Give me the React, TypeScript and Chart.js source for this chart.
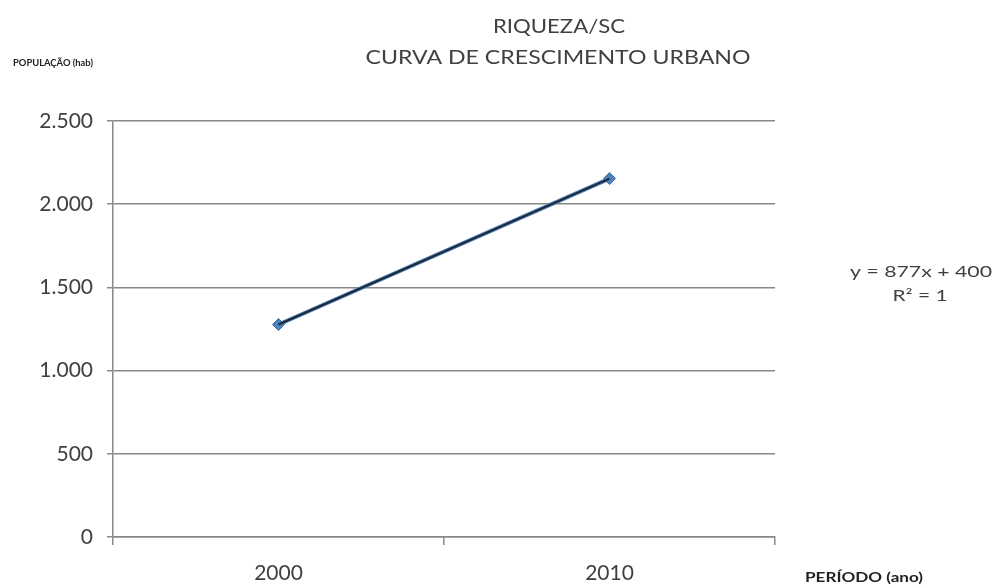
import React, { useEffect, useRef } from "react";
import { Chart, registerables } from "chart.js";

Chart.register(...registerables);

const years: string[] = ["2000", "2010"];
const population: number[] = [1277, 2154];
const yTicks: number[] = [0, 500, 1000, 1500, 2000, 2500];
const titleLines: string[] = ["RIQUEZA/SC", "CURVA DE CRESCIMENTO URBANO"];
const trendLines: string[] = ["y = 877x + 400", "R² = 1"];
const yAxisTitle = "POPULAÇÃO (hab)";
const xAxisTitle = "PERÍODO (ano)";

const FONT = "Lato, 'Open Sans', 'DejaVu Sans', sans-serif";

const fmt = (v: number) => v.toLocaleString("de-DE");

// draw text horizontally stretched to a target width (reference text is wide)
function wideText(ctx: CanvasRenderingContext2D, text: string, x: number, cy: number, width: number) {
  const w = ctx.measureText(text).width;
  const sx = width / w;
  ctx.save();
  ctx.translate(x, cy);
  ctx.scale(sx, 1);
  ctx.fillText(text, 0, 0);
  ctx.restore();
}

const textPlugin = {
  id: "extraText",
  afterDraw(chart: any) {
    const ctx = chart.ctx as CanvasRenderingContext2D;
    ctx.save();
    ctx.fillStyle = "#404040";
    ctx.textBaseline = "middle";
    ctx.textAlign = "center";
    ctx.font = `20px ${FONT}`;
    wideText(ctx, titleLines[0], 559, 27, 132);
    wideText(ctx, titleLines[1], 558, 58, 385);

    ctx.font = `15px ${FONT}`;
    wideText(ctx, trendLines[0], 921, 272, 142);
    wideText(ctx, trendLines[1], 920, 296, 55);

    ctx.textAlign = "left";
    ctx.fillStyle = "#222";
    ctx.font = `bold 9px ${FONT}`;
    wideText(ctx, yAxisTitle, 13, 63, 80);
    ctx.font = `bold 14px ${FONT}`;
    wideText(ctx, xAxisTitle, 805, 577, 118);
    ctx.restore();
  },
};

export default function App() {
  const ref = useRef<HTMLCanvasElement | null>(null);
  useEffect(() => {
    document.body.style.margin = "0";
    if (!ref.current) return;
    const chart = new Chart(ref.current, {
      type: "line",
      data: {
        labels: years,
        datasets: [
          {
            label: "População",
            data: population,
            borderColor: "#4F81BD",
            borderWidth: 4,
            pointStyle: "rectRot",
            pointRadius: 6,
            pointBackgroundColor: "#4F81BD",
            pointBorderColor: "#3B6AA3",
            pointBorderWidth: 1,
            tension: 0,
            order: 2,
          },
          {
            label: "Tendência",
            data: population,
            borderColor: "#1d2736",
            borderWidth: 2,
            pointRadius: 0,
            tension: 0,
            order: 1,
          },
        ],
      },
      options: {
        responsive: false,
        animation: false,
        layout: { padding: { top: 121, right: 224, left: 0, bottom: 0 } },
        plugins: {
          legend: { display: false },
          title: { display: false },
          tooltip: { enabled: false },
        },
        scales: {
          x: {
            type: "category",
            offset: true,
            grid: {
              offset: true,
              drawOnChartArea: false,
              drawTicks: true,
              tickLength: 8,
              color: "#888",
              lineWidth: 1.5,
            },
            border: { display: true, color: "#888", width: 1.5 },
            ticks: {
              color: "#404040",
              font: { family: FONT, size: 21 },
              padding: 16,
            },
            afterFit: (scale: any) => {
              scale.height = 51;
            },
          },
          y: {
            min: 0,
            max: 2500,
            afterBuildTicks: (scale: any) => {
              scale.ticks = yTicks.map((v) => ({ value: v }));
            },
            grid: {
              color: "#888",
              lineWidth: 1.5,
              tickLength: 6,
            },
            border: { display: true, color: "#888", width: 1.5 },
            ticks: {
              color: "#404040",
              font: { family: FONT, size: 21 },
              padding: 14,
              callback: (v: any) => fmt(Number(v)),
            },
            afterFit: (scale: any) => {
              scale.width = 113;
            },
          },
        },
      },
      plugins: [textPlugin],
    } as any);
    return () => chart.destroy();
  }, []);
  return (
    <div style={{ position: "absolute", left: 0, top: 0, width: 999, height: 588, background: "#fff" }}>
      <canvas ref={ref} width={999} height={588} style={{ display: "block" }} />
    </div>
  );
}
